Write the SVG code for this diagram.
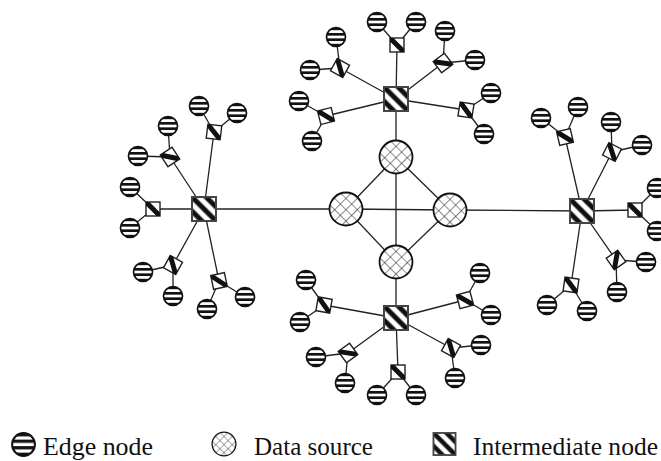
<svg xmlns="http://www.w3.org/2000/svg" width="661" height="461" viewBox="0 0 661 461">
  <style>
    .ln { stroke: #222; stroke-width: 1.3; fill: none; }
    .lbl { font-family: "Liberation Serif", "DejaVu Serif", "Times New Roman", serif; font-size: 25px; fill: #111; }
  </style>
  <defs>
    <!-- horizontal bands for edge nodes -->
    <pattern id="bands" patternUnits="userSpaceOnUse" width="8" height="5.43" patternTransform="translate(0 1.36)">
      <rect width="8" height="5.43" fill="#fff"/>
      <rect width="8" height="2.71" fill="#111"/>
    </pattern>
    <!-- diagonal lattice for data sources -->
    <pattern id="lattice" patternUnits="userSpaceOnUse" width="8" height="8" patternTransform="rotate(45)">
      <rect width="8" height="8" fill="#fff"/>
      <path d="M0 0H8M0 0V8" stroke="#222" stroke-width="1.1"/>
    </pattern>
    <!-- back-slash stripes for intermediate nodes -->
    <pattern id="slash" patternUnits="userSpaceOnUse" width="10" height="10" patternTransform="rotate(-45)">
      <rect width="10" height="10" fill="#fff"/>
      <rect x="0" width="2.5" height="10" fill="#111"/>
      <rect x="7.5" width="2.5" height="10" fill="#111"/>
    </pattern>

    <g id="edge">
      <circle r="9.5" fill="url(#bands)" stroke="#111" stroke-width="1.7"/>
    </g>
    <g id="source">
      <circle r="16.5" fill="url(#lattice)" stroke="#111" stroke-width="1.8"/>
    </g>
    <g id="hub">
      <rect x="-12" y="-12" width="24" height="24" fill="url(#slash)" stroke="#444" stroke-width="2"/>
    </g>
    <g id="relay">
      <rect x="-7" y="-7" width="14" height="14" fill="#fff" stroke="#222" stroke-width="1.4"/>
      <polygon points="-7,-7 -3.5,-7 7,3.5 7,7 3.5,7 -7,-3.5" fill="#111"/>
    </g>
  </defs>

  <rect width="661" height="461" fill="#fff"/>

  <g id="connectors">
    <!-- backbone -->
    <line class="ln" x1="204" y1="209" x2="346" y2="209"/>
    <line class="ln" x1="346" y1="209" x2="450" y2="210"/>
    <line class="ln" x1="450" y1="210" x2="582" y2="211"/>
    <line class="ln" x1="396" y1="99" x2="396" y2="157"/>
    <line class="ln" x1="396" y1="157" x2="396" y2="262"/>
    <line class="ln" x1="396" y1="262" x2="396" y2="318"/>
    <line class="ln" x1="396" y1="157" x2="346" y2="209"/>
    <line class="ln" x1="396" y1="157" x2="450" y2="210"/>
    <line class="ln" x1="396" y1="262" x2="346" y2="209"/>
    <line class="ln" x1="396" y1="262" x2="450" y2="210"/>

    <!-- top cluster -->
    <path class="ln" d="M396 99L397 45M397 45L377 22M397 45L416 22"/>
    <path class="ln" d="M396 99L340 68M340 68L336 37M340 68L310 70"/>
    <path class="ln" d="M396 99L326 116M326 116L299 101M326 116L312 141"/>
    <path class="ln" d="M396 99L443 63M443 63L445 31M443 63L475 60"/>
    <path class="ln" d="M396 99L466 110M466 110L491 93M466 110L484 134"/>

    <!-- left cluster -->
    <path class="ln" d="M204 209L214 132M214 132L199 106M214 132L237 113"/>
    <path class="ln" d="M204 209L170 157M170 157L168 126M170 157L138 156"/>
    <path class="ln" d="M204 209L153 209M153 209L130 187M153 209L130 228"/>
    <path class="ln" d="M204 209L173 265M173 265L143 272M173 265L173 296"/>
    <path class="ln" d="M204 209L219 281M219 281L245 297M219 281L207 309"/>

    <!-- right cluster -->
    <path class="ln" d="M582 211L565 137M565 137L541 118M565 137L578 107"/>
    <path class="ln" d="M582 211L612 152M612 152L611 122M612 152L642 145"/>
    <path class="ln" d="M582 211L635 210M635 210L657 188M635 210L657 231"/>
    <path class="ln" d="M582 211L616 260M616 260L646 262M616 260L617 292"/>
    <path class="ln" d="M582 211L571 285M571 285L547 305M571 285L587 311"/>

    <!-- bottom cluster -->
    <path class="ln" d="M396 318L324 305M324 305L306 280M324 305L300 322"/>
    <path class="ln" d="M396 318L465 300M465 300L480 273M465 300L491 315"/>
    <path class="ln" d="M396 318L348 353M348 353L316 357M348 353L345 383"/>
    <path class="ln" d="M396 318L398 372M398 372L377 395M398 372L416 395"/>
    <path class="ln" d="M396 318L451 348M451 348L481 345M451 348L455 378"/>
  </g>

  <!-- data sources -->
  <g id="src-top"><use href="#source" x="396" y="157"/></g>
  <g id="src-left"><use href="#source" x="346" y="209"/></g>
  <g id="src-right"><use href="#source" x="450" y="210"/></g>
  <g id="src-bottom"><use href="#source" x="396" y="262"/></g>

  <!-- hubs -->
  <g id="hub-top"><use href="#hub" x="396" y="99"/></g>
  <g id="hub-left"><use href="#hub" x="204" y="209"/></g>
  <g id="hub-right"><use href="#hub" x="582" y="211"/></g>
  <g id="hub-bottom"><use href="#hub" x="396" y="318"/></g>

  <!-- relays -->
  <g id="relay-t1"><use href="#relay" transform="translate(397 45)"/></g>
  <g id="relay-t2"><use href="#relay" transform="translate(340 68) rotate(29)"/></g>
  <g id="relay-t3"><use href="#relay" transform="translate(326 116) rotate(-14)"/></g>
  <g id="relay-t4"><use href="#relay" transform="translate(443 63) rotate(-37)"/></g>
  <g id="relay-t5"><use href="#relay" transform="translate(466 110) rotate(9)"/></g>

  <g id="relay-l1"><use href="#relay" transform="translate(214 132) rotate(7)"/></g>
  <g id="relay-l2"><use href="#relay" transform="translate(170 157) rotate(-33)"/></g>
  <g id="relay-l3"><use href="#relay" transform="translate(153 209)"/></g>
  <g id="relay-l4"><use href="#relay" transform="translate(173 265) rotate(29)"/></g>
  <g id="relay-l5"><use href="#relay" transform="translate(219 281) rotate(-12)"/></g>

  <g id="relay-r1"><use href="#relay" transform="translate(565 137) rotate(-13)"/></g>
  <g id="relay-r2"><use href="#relay" transform="translate(612 152) rotate(27)"/></g>
  <g id="relay-r3"><use href="#relay" transform="translate(635 210)"/></g>
  <g id="relay-r4"><use href="#relay" transform="translate(616 260) rotate(55)"/></g>
  <g id="relay-r5"><use href="#relay" transform="translate(571 285) rotate(8)"/></g>

  <g id="relay-b1"><use href="#relay" transform="translate(324 305) rotate(10)"/></g>
  <g id="relay-b2"><use href="#relay" transform="translate(465 300) rotate(-15)"/></g>
  <g id="relay-b3"><use href="#relay" transform="translate(348 353) rotate(-36)"/></g>
  <g id="relay-b4"><use href="#relay" transform="translate(398 372)"/></g>
  <g id="relay-b5"><use href="#relay" transform="translate(451 348) rotate(29)"/></g>

  <!-- edge nodes -->
  <g id="edge-t1a"><use href="#edge" x="377" y="22"/></g>
  <g id="edge-t1b"><use href="#edge" x="416" y="22"/></g>
  <g id="edge-t2a"><use href="#edge" x="336" y="37"/></g>
  <g id="edge-t2b"><use href="#edge" x="310" y="70"/></g>
  <g id="edge-t3a"><use href="#edge" x="299" y="101"/></g>
  <g id="edge-t3b"><use href="#edge" x="312" y="141"/></g>
  <g id="edge-t4a"><use href="#edge" x="445" y="31"/></g>
  <g id="edge-t4b"><use href="#edge" x="475" y="60"/></g>
  <g id="edge-t5a"><use href="#edge" x="491" y="93"/></g>
  <g id="edge-t5b"><use href="#edge" x="484" y="134"/></g>

  <g id="edge-l1a"><use href="#edge" x="199" y="106"/></g>
  <g id="edge-l1b"><use href="#edge" x="237" y="113"/></g>
  <g id="edge-l2a"><use href="#edge" x="168" y="126"/></g>
  <g id="edge-l2b"><use href="#edge" x="138" y="156"/></g>
  <g id="edge-l3a"><use href="#edge" x="130" y="187"/></g>
  <g id="edge-l3b"><use href="#edge" x="130" y="228"/></g>
  <g id="edge-l4a"><use href="#edge" x="143" y="272"/></g>
  <g id="edge-l4b"><use href="#edge" x="173" y="296"/></g>
  <g id="edge-l5a"><use href="#edge" x="245" y="297"/></g>
  <g id="edge-l5b"><use href="#edge" x="207" y="309"/></g>

  <g id="edge-r1a"><use href="#edge" x="541" y="118"/></g>
  <g id="edge-r1b"><use href="#edge" x="578" y="107"/></g>
  <g id="edge-r2a"><use href="#edge" x="611" y="122"/></g>
  <g id="edge-r2b"><use href="#edge" x="642" y="145"/></g>
  <g id="edge-r3a"><use href="#edge" x="657" y="188"/></g>
  <g id="edge-r3b"><use href="#edge" x="657" y="231"/></g>
  <g id="edge-r4a"><use href="#edge" x="646" y="262"/></g>
  <g id="edge-r4b"><use href="#edge" x="617" y="292"/></g>
  <g id="edge-r5a"><use href="#edge" x="547" y="305"/></g>
  <g id="edge-r5b"><use href="#edge" x="587" y="311"/></g>

  <g id="edge-b1a"><use href="#edge" x="306" y="280"/></g>
  <g id="edge-b1b"><use href="#edge" x="300" y="322"/></g>
  <g id="edge-b2a"><use href="#edge" x="480" y="273"/></g>
  <g id="edge-b2b"><use href="#edge" x="491" y="315"/></g>
  <g id="edge-b3a"><use href="#edge" x="316" y="357"/></g>
  <g id="edge-b3b"><use href="#edge" x="345" y="383"/></g>
  <g id="edge-b4a"><use href="#edge" x="377" y="395"/></g>
  <g id="edge-b4b"><use href="#edge" x="416" y="395"/></g>
  <g id="edge-b5a"><use href="#edge" x="481" y="345"/></g>
  <g id="edge-b5b"><use href="#edge" x="455" y="378"/></g>

  <!-- legend -->
  <g id="legend">
    <use href="#edge" transform="translate(23.5 444.5) scale(1.2)"/>
    <text class="lbl" font-family="Liberation Serif, serif" x="43" y="455" textLength="110" lengthAdjust="spacingAndGlyphs">Edge node</text>
    <use href="#source" transform="translate(224 444) scale(0.72)"/>
    <text class="lbl" font-family="Liberation Serif, serif" x="254" y="455" textLength="119" lengthAdjust="spacingAndGlyphs">Data source</text>
    <use href="#hub" transform="translate(444.5 444) scale(0.92)"/>
    <text class="lbl" font-family="Liberation Serif, serif" x="473" y="455" textLength="185" lengthAdjust="spacingAndGlyphs">Intermediate node</text>
  </g>
</svg>
